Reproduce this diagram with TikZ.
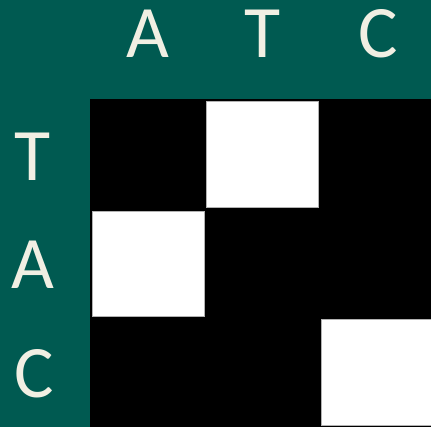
\documentclass[tikz,border=0pt]{standalone}
\usepackage{fontspec}
\setmainfont{Carlito}
\usepackage{tikz}
\definecolor{board}{HTML}{005A51}
\definecolor{chalk}{HTML}{F1EFE3}

\tikzset{
  letter/.style={text=chalk, font=\fontsize{74}{80}\selectfont, inner sep=0pt},
  hit/.style={fill=white, draw=gray!60, line width=0.8pt, inner sep=0pt}
}

\begin{document}
\begin{tikzpicture}[x=1pt, y=-1pt]
  \useasboundingbox (0,0) rectangle (431,427);
  \fill[board] (0,0) rectangle (431,427);
  \fill[black] (90,99) rectangle (431,427);

  % column heads
  \node[letter] (colA) at (147.5,33.5) {A};
  \node[letter] (colT) at (262.5,33.5) {T};
  \node[letter] (colC) at (378,33.5) {C};

  % row heads
  \node[letter] (rowT) at (33,157) {T};
  \node[letter] (rowA) at (33,265) {A};
  \node[letter] (rowC) at (34,374) {C};

  % matches
  \node[hit, minimum width=112pt, minimum height=106pt] (hitTT) at (262,154) {};
  \node[hit, minimum width=112pt, minimum height=105pt] (hitAA) at (148,263.5) {};
  \node[hit, minimum width=110pt, minimum height=106pt] (hitCC) at (376.5,372) {};
\end{tikzpicture}
\end{document}
